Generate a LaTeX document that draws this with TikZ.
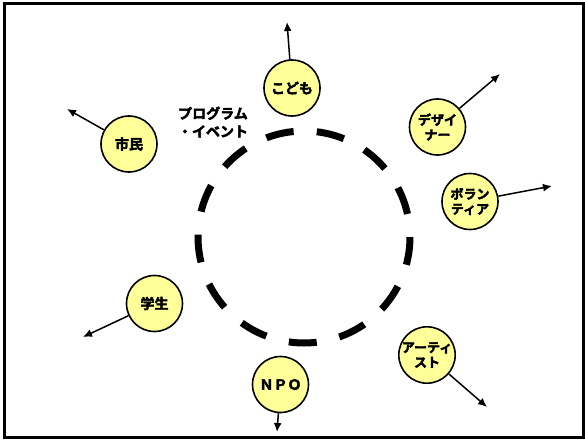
\documentclass[tikz,border=0pt]{standalone}
\usepackage{fontspec}
\setmainfont{Noto Sans CJK JP}
\newfontfamily\jpheavy{Noto Sans CJK JP Bold}[FakeBold=3]
\usepackage{tikz}
\usetikzlibrary{arrows.meta}
\definecolor{memberfill}{RGB}{255,255,153}
\tikzstyle{node_member} = [circle, draw, line width=1.6pt, fill=memberfill, inner sep=0pt, minimum size=56pt, align=center, font=\jpheavy\fontsize{13}{15}\selectfont]
\tikzstyle{node_single} = [node_member, font=\jpheavy\fontsize{14}{16}\selectfont]
\tikzstyle{edge_out} = [line width=1.5pt, -{Latex[length=9pt,width=8pt]}]
\tikzstyle{ring_dashed} = [line width=7pt, dash pattern=on 28pt off 23.23pt, dash phase=28pt]

\begin{document}
\begin{tikzpicture}[x=1pt,y=1pt]
		\useasboundingbox (-304,-202) rectangle (281,237);
		\draw[line width=3pt] (-299.5,-200.5) rectangle (279,233);
		\draw[ring_dashed] (0,0) circle [radius=106];
		\node (prog) at (-91,115) [align=center, font=\jpheavy\fontsize{14}{18}\selectfont] {プログラム\\・イベント};
		
		\node (kodomo) at (-12,149) [node_single] {こども};
		\node (shimin) at (-175,93) [node_single] {市民};
		\node (designer) at (133.5,110) [node_member] {デザイ\\ナー};
		\node (volunteer) at (166,35.5) [node_member] {ボラン\\ティア};
		\node (gakusei) at (-149.5,-66.5) [node_single] {学生};
		\node (npo) at (-23.5,-147.5) [node_single] {ＮＰＯ};
		\node (artist) at (123,-118) [node_member] {アーティ\\スト};
		
		\coordinate (kodomo_to) at (-17,215);
		\coordinate (shimin_to) at (-237,128);
		\coordinate (designer_to) at (196,163);
		\coordinate (volunteer_to) at (248,51);
		\coordinate (gakusei_to) at (-221,-100);
		\coordinate (npo_to) at (-27,-195);
		\coordinate (artist_to) at (183,-170);
		
		\draw[edge_out] (kodomo)--(kodomo_to);
		\draw[edge_out] (shimin)--(shimin_to);
		\draw[edge_out] (designer)--(designer_to);
		\draw[edge_out] (volunteer)--(volunteer_to);
		\draw[edge_out] (gakusei)--(gakusei_to);
		\draw[edge_out] (npo)--(npo_to);
		\draw[edge_out] (artist)--(artist_to);
\end{tikzpicture}
\end{document}
